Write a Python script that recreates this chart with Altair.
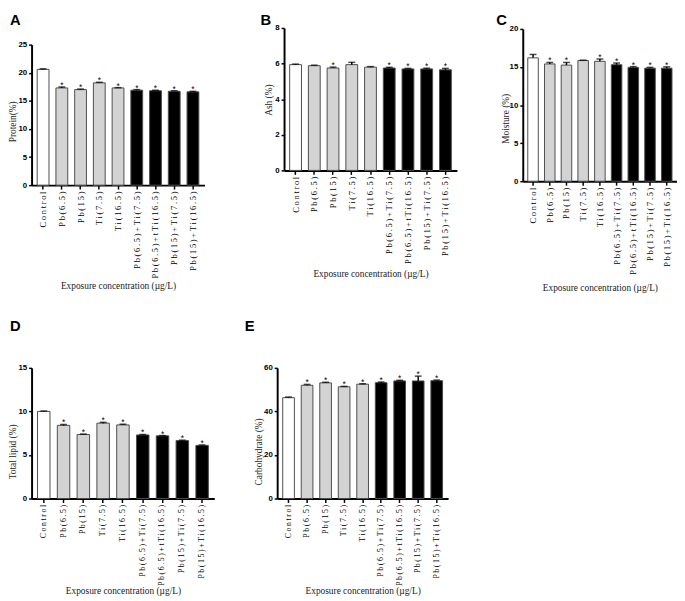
import altair as alt
import pandas as pd

categories = ["Control", "Pb(6.5)", "Pb(15)", "Ti(7.5)", "Ti(16.5)",
              "Pb(6.5)+Ti(7.5)", "Pb(6.5)+tTi(16.5)", "Pb(15)+Ti(7.5)", "Pb(15)+Ti(16.5)"]
groups = ["control", "single", "single", "single", "single", "combo", "combo", "combo", "combo"]

protein = [20.6, 17.3, 17.0, 18.2, 17.3, 16.9, 16.8, 16.7, 16.6]
protein_sd = [0.1, 0.15, 0.1, 0.1, 0.05, 0.1, 0.1, 0.1, 0.1]
protein_star = [0, 1, 1, 1, 1, 1, 1, 1, 1]

ash = [5.94, 5.88, 5.75, 5.94, 5.80, 5.75, 5.70, 5.70, 5.65]
ash_sd = [0.03, 0.03, 0.05, 0.13, 0.03, 0.04, 0.03, 0.04, 0.08]
ash_star = [0, 0, 1, 0, 0, 1, 1, 1, 1]

moisture = [16.2, 15.4, 15.25, 15.85, 15.75, 15.3, 14.95, 14.85, 14.85]
moisture_sd = [0.45, 0.2, 0.35, 0.05, 0.3, 0.22, 0.1, 0.1, 0.17]
moisture_star = [0, 1, 1, 0, 1, 1, 1, 1, 1]

lipid = [10.0, 8.4, 7.35, 8.65, 8.45, 7.3, 7.2, 6.65, 6.1]
lipid_sd = [0.05, 0.1, 0.05, 0.1, 0.08, 0.05, 0.03, 0.05, 0.05]
lipid_star = [0, 1, 1, 1, 1, 1, 1, 1, 1]

carb = [46.3, 52.0, 53.1, 51.3, 52.5, 53.2, 54.0, 54.0, 54.1]
carb_sd = [0.3, 0.4, 0.3, 0.2, 0.2, 0.3, 0.3, 2.2, 0.3]
carb_star = [0, 1, 1, 1, 1, 1, 1, 1, 1]

group_domain = ["control", "single", "combo"]
group_fill = ["#ffffff", "#d3d3d3", "#000000"]

XTITLE = "Exposure concentration (µg/L)"
SPACED = "join(split(datum.label, ''), '\u2009')"


def panel(letter, ytitle, vals, sds, stars, ymax, ystep, gw, gh, xrange, yrange,
          xoff, yoff, letter_x, letter_y, ytitle_x, ytitle_y, xtitle_y, lab_size):
    df = pd.DataFrame({
        "cat": categories,
        "grp": groups,
        "val": vals,
        "sd": sds,
        "top": [v + s for v, s in zip(vals, sds)],
        "star": ["*" if s else "" for s in stars],
    })
    xscale = alt.Scale(paddingInner=0.37, paddingOuter=0.3, range=xrange)
    yscale = alt.Scale(domain=[0, ymax], nice=False, zero=True, range=yrange)
    xaxis = alt.Axis(title=XTITLE, labelAngle=-90, labelExpr=SPACED,
                     labelFontSize=lab_size,
                     titleY=xtitle_y, titleBaseline="middle",
                     offset=xoff, labelOverlap=False)
    yaxis = alt.Axis(title=ytitle, values=list(range(0, ymax + 1, ystep)),
                     titleX=ytitle_x, titleY=ytitle_y, titleBaseline="middle",
                     titleAngle=-90, offset=yoff, labelOverlap=False)
    xenc = alt.X("cat:N", sort=categories, scale=xscale, axis=xaxis)
    base = alt.Chart(df)
    bars = base.mark_bar(stroke="#4d4d4d", strokeWidth=1).encode(
        x=xenc, y=alt.Y("val:Q", scale=yscale, axis=yaxis),
        fill=alt.Fill("grp:N", scale=alt.Scale(domain=group_domain, range=group_fill),
                      legend=None))
    rule = base.mark_rule(color="black", strokeWidth=1.5).encode(
        x=xenc, y=alt.Y("val:Q", scale=yscale, axis=yaxis), y2="top:Q")
    cap = base.mark_tick(color="black", thickness=1.5, size=7).encode(
        x=xenc, y=alt.Y("top:Q", scale=yscale, axis=yaxis))
    star = base.mark_text(font="Liberation Sans", fontSize=8.5, baseline="alphabetic",
                          dy=1, color="black").encode(
        x=xenc, y=alt.Y("top:Q", scale=yscale, axis=yaxis), text="star:N")
    lab = alt.Chart(pd.DataFrame({"t": [letter]})).mark_text(
        font="Liberation Sans", fontWeight="bold", fontSize=15, align="left",
        baseline="top", color="black").encode(
        x=alt.value(letter_x), y=alt.value(letter_y), text="t:N")
    return alt.layer(bars, rule, cap, star, lab).properties(width=gw, height=gh)


pA = panel("A", "Protein(%)", protein, protein_sd, protein_star, 25, 5,
           176, 160, [0, 176], [160, 17], 0, 0, -22, -15, -19, 95, 102, 8.6)
pB = panel("B", "Ash (%)", ash, ash_sd, ash_star, 8, 2,
           183, 160, [7, 183], [145, 0], -15, -7, -17, -15, -16, 73, 105, 8.6)
pC = panel("C", "Moisture (%)", moisture, moisture_sd, moisture_star, 20, 5,
           160, 160, [3, 160], [156, 1], -4, -3, -24, -15, -18, 92, 108, 8.6)
pD = panel("D", "Total lipid (%)", lipid, lipid_sd, lipid_star, 15, 5,
           186, 133, [0, 186], [133, 0], 0, 0, -22, -50, -19, 85, 94, 8.0)
pE = panel("E", "Carbohydrate (%)", carb, carb_sd, carb_star, 60, 20,
           174, 133, [0, 174], [133, 0], 0, 0, -33, -50, -19, 85, 94, 8.0)

chart = alt.concat(
    pA, pB, pC, pD, pE, columns=3,
    spacing=alt.RowColnumber(row=186, column=64),
).properties(
    bounds="flush",
    align=alt.RowColLayoutAlign(row="all", column="none"),
    padding=0, background="white",
).configure_axis(
    domainColor="black", domainWidth=2, tickColor="black", tickWidth=1.5,
    tickSize=4, grid=False, labelColor="black", titleColor="#222222",
    titleFont="Liberation Serif", titleFontSize=9.5, titleFontWeight="normal",
).configure_axisX(
    labelFont="Liberation Serif", labelPadding=2,
).configure_axisY(
    labelFont="Liberation Sans", labelFontWeight="bold", labelFontSize=8,
    labelPadding=2, tickSize=3,
).configure_view(stroke=None)

chart.save("out.html", embed_options={"renderer": "svg", "actions": False})
